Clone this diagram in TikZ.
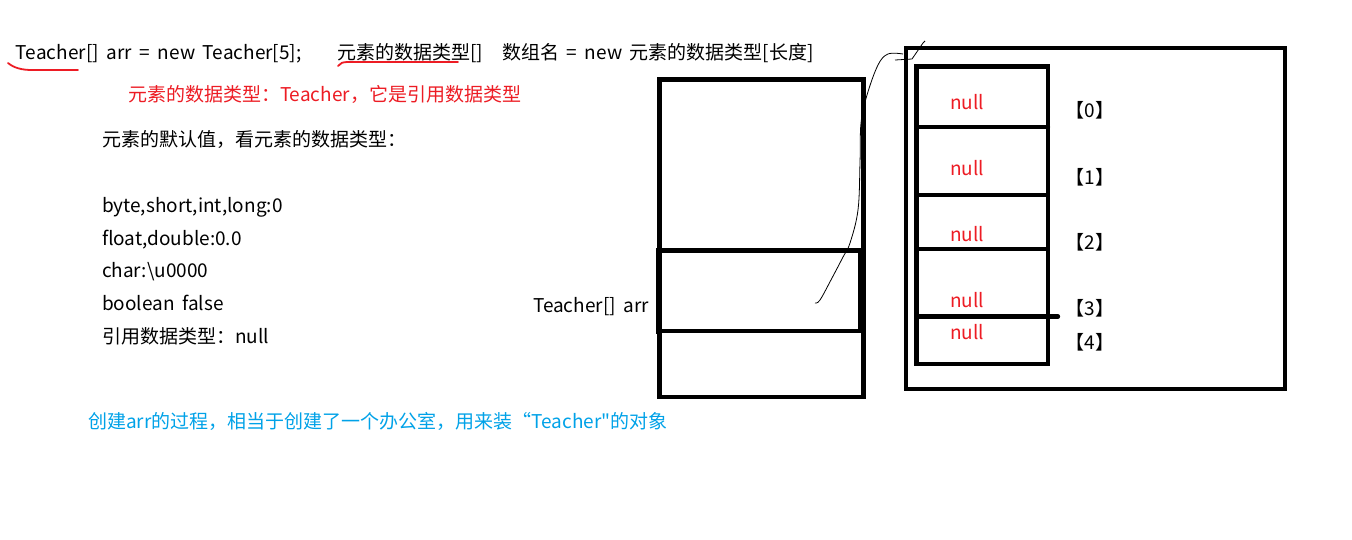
\documentclass[tikz,border=0pt]{standalone}
\usepackage{fontspec}
\setmainfont[Ligatures=TeXOff, WordSpace=1.8]{Noto Sans CJK SC}
\definecolor{pred}{HTML}{ED1C24}
\definecolor{pblue}{HTML}{00A2E8}
\begin{document}
\begin{tikzpicture}[x=1pt,y=-1pt,
  every node/.style={inner sep=0pt, outer sep=0pt, font=\fontsize{19}{22}\selectfont},
  txt/.style={anchor=base west},
  redtxt/.style={txt, text=pred},
  nulltxt/.style={anchor=base, text=pred},
  idxtxt/.style={anchor=center},
  thickbox/.style={draw=black, line width=4.6pt},
  divider/.style={draw=black, line width=4.3pt},
  squiggle/.style={draw=pred, line width=1.8pt, line cap=round},
  pen/.style={draw=black, line width=0.8pt}]
\useasboundingbox[fill=white] (0,0) rectangle (1352,539);

% texts
\node[txt] (decl) at (16,59) {Teacher[] arr = new Teacher[5];};
\node[txt] (fmt1) at (337,59) {元素的数据类型[]};
\node[txt] (fmt2) at (502,59) {数组名 = new 元素的数据类型[长度]};
\node[redtxt] (note) at (128,101) {元素的数据类型：Teacher，它是引用数据类型};
\node[txt] (defh) at (102,146) {元素的默认值，看元素的数据类型：};
\node[txt] (d1) at (102,212) {byte,short,int,long:0};
\node[txt] (d2) at (102,245) {float,double:0.0};
\node[txt] (d3) at (102,277) {char:\textbackslash u0000};
\node[txt] (d4) at (102,310) {boolean false};
\node[txt] (d5) at (102,343) {引用数据类型：null};
\node[txt] (arrlbl) at (533,312) {Teacher[] arr};
\node[txt, text=pblue] (blue) at (88,428) {创建arr的过程，相当于创建了一个办公室，用来装“Teacher"的对象};

% red underlines
\draw[squiggle] (8,63) .. controls (14,68) and (22,70) .. (32,70) -- (78,70);
\draw[squiggle] (338,66) .. controls (340,63) and (343,62) .. (348,62) -- (458,62);

% stack box
\draw[thickbox] (659.5,79.5) rectangle (863.5,397);
\draw[thickbox] (656,250.5) -- (866,250.5);
\draw[thickbox] (656,331) -- (861,331);
\draw[thickbox] (658.5,248) -- (658.5,333.5);
\draw[thickbox] (860,250) -- (860,331);

% heap box
\draw[thickbox] (906,48) rectangle (1285,389);
\draw[thickbox] (916.5,66.5) rectangle (1048,364);
\draw[divider, line cap=round] (918,127) -- (1048,127);
\draw[divider] (918,195.3) -- (1048,195.3);
\draw[divider] (918,249.3) -- (1048,249.3);
\draw[divider, line cap=round] (918,316.5) -- (1058,316.5);

\node[nulltxt] (n0) at (967,109) {null};
\node[nulltxt] (n1) at (967,175) {null};
\node[nulltxt] (n2) at (967,241) {null};
\node[nulltxt] (n3) at (967,307) {null};
\node[nulltxt] (n4) at (967,339) {null};

\node[idxtxt] (i0) at (1090,110) {【0】};
\node[idxtxt] (i1) at (1090,177) {【1】};
\node[idxtxt] (i2) at (1090,242) {【2】};
\node[idxtxt] (i3) at (1090,308) {【3】};
\node[idxtxt] (i4) at (1090,342) {【4】};

% reference line
\coordinate (refstart) at (815,303);
\coordinate (refend) at (923,43);
\draw[pen] plot[smooth, tension=0.6] coordinates {(refstart) (820,300) (832,278) (843,257) (850,243) (858,210) (860,163) (861,123) (867,95) (878,65) (888,54) (903,54)};
\draw[pen] (895,60) -- (912,59) -- (refend) -- (925,41);
\end{tikzpicture}
\end{document}
